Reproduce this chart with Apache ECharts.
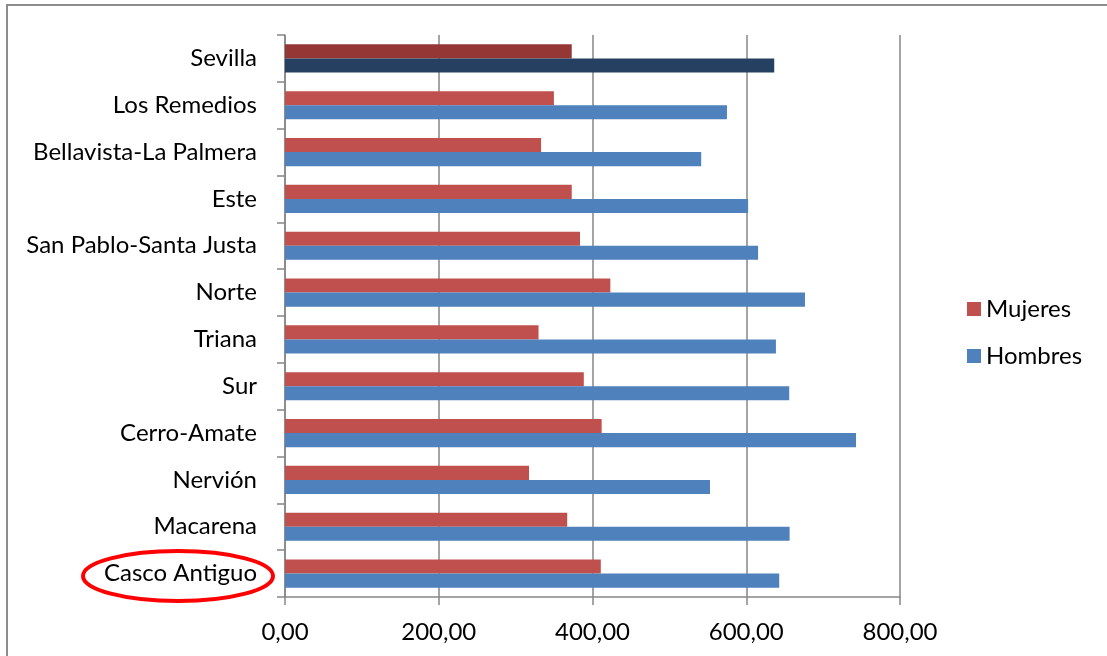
<!DOCTYPE html>
<html>
<head>
<meta charset="utf-8">
<script src="https://cdn.jsdelivr.net/npm/echarts@6/dist/echarts.min.js"></script>
<style>
html,body{margin:0;padding:0;background:#fff;}
#chart{width:1107px;height:656px;}
</style>
</head>
<body>
<div id="chart"></div>
<script>
// Categories listed bottom to top
const categories = ['Casco Antiguo','Macarena','Nervión','Cerro-Amate','Sur','Triana','Norte','San Pablo-Santa Justa','Este','Bellavista-La Palmera','Los Remedios','Sevilla'];
const mujeres = [410.8, 367.1, 317.4, 411.9, 388.7, 329.8, 423.2, 383.8, 373.0, 333.1, 349.8, 373.0];
const hombres = [642.9, 656.4, 552.8, 742.8, 655.9, 638.6, 676.4, 615.4, 602.4, 541.4, 574.9, 636.4];
const xTicks = [0, 200, 400, 600, 800];

const seriesNames = ['Mujeres', 'Hombres'];
const baseColors = ['#C0504D', '#4F81BD'];
const totalColors = ['#953735', '#254061'];
const totalCategory = 'Sevilla';

const FONT = 'Lato, "Noto Sans", sans-serif';

function buildData(values, si) {
  return values.map((v, i) => categories[i] === totalCategory
    ? { value: v, itemStyle: { color: totalColors[si] } }
    : v);
}

const chart = echarts.init(document.getElementById('chart'), null, { renderer: 'canvas' });
chart.setOption({
  animation: false,
  backgroundColor: '#fff',
  textStyle: { fontFamily: FONT },
  grid: { left: 285, right: 207, top: 35, bottom: 59, containLabel: false },
  legend: {
    orient: 'vertical',
    left: 962,
    top: 292,
    itemWidth: 14,
    itemHeight: 14,
    itemGap: 23,
    icon: 'rect',
    data: seriesNames,
    textStyle: { fontSize: 24, color: '#000', fontFamily: FONT }
  },
  xAxis: {
    type: 'value',
    min: xTicks[0],
    max: xTicks[xTicks.length - 1],
    interval: xTicks[1] - xTicks[0],
    axisLine: { show: true, lineStyle: { color: '#868686', width: 1.5 } },
    axisTick: { show: true, length: 8, lineStyle: { color: '#868686', width: 1.5 } },
    splitLine: { show: true, lineStyle: { color: '#868686', width: 1.5 } },
    axisLabel: {
      fontSize: 24, color: '#000', margin: 23, fontFamily: FONT,
      formatter: v => v.toFixed(2).replace('.', ',')
    }
  },
  yAxis: {
    type: 'category',
    data: categories,
    axisLine: { show: true, lineStyle: { color: '#868686', width: 1.5 } },
    axisTick: { show: true, length: 8, lineStyle: { color: '#868686', width: 1.5 } },
    axisLabel: { fontSize: 24, color: '#000', margin: 28, fontFamily: FONT }
  },
  series: seriesNames.map((name, si) => ({
    name: name,
    type: 'bar',
    data: buildData(si === 0 ? mujeres : hombres, si),
    itemStyle: { color: baseColors[si] },
    barGap: '0%',
    barCategoryGap: '40%'
  })),
  graphic: [
    {
      type: 'rect',
      shape: { x: 7, y: 5, width: 1300, height: 900 },
      style: { fill: 'none', stroke: '#8c8c8c', lineWidth: 2 },
      z: 100
    },
    {
      type: 'ellipse',
      shape: { cx: 178, cy: 576, rx: 95, ry: 25 },
      style: { fill: 'none', stroke: '#ff0000', lineWidth: 4 },
      z: 100
    }
  ]
});
</script>
</body>
</html>
